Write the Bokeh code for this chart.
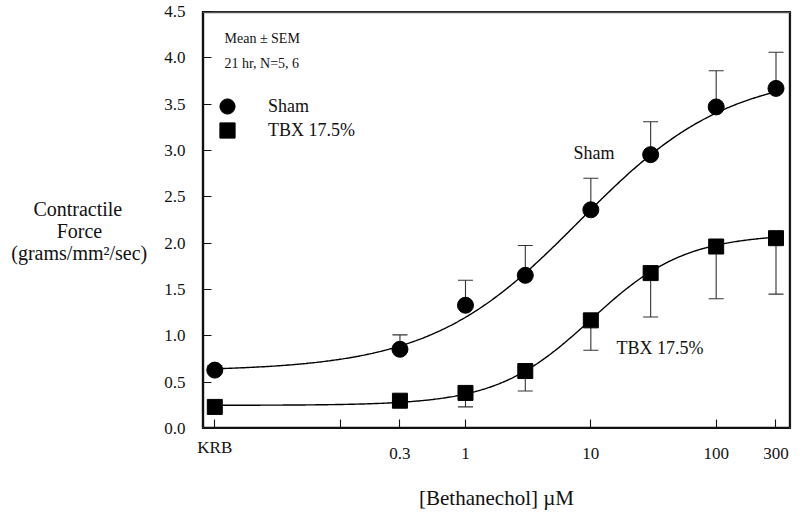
import numpy as np
from bokeh.plotting import figure
from bokeh.models import (Range1d, FixedTicker, PrintfTickFormatter, ColumnDataSource,
                          Whisker, TeeHead, Label, Legend, LegendItem, LogAxis)
from bokeh.embed import file_html
from bokeh.resources import INLINE

# ---------------- data ----------------
conc = [0.01, 0.3, 1, 3, 10, 30, 100, 300]          # KRB plotted at 0.01
sham_mean = [0.63, 0.855, 1.33, 1.653, 2.36, 2.955, 3.47, 3.67]
sham_upper = [0.68, 1.01, 1.60, 1.975, 2.70, 3.31, 3.86, 4.06]
tbx_mean = [0.233, 0.30, 0.384, 0.62, 1.167, 1.677, 1.964, 2.054]
tbx_lower = [0.20, 0.27, 0.233, 0.405, 0.844, 1.203, 1.40, 1.45]

x_ticks = [0.01, 0.1, 0.3, 1, 10, 100, 300]
x_tick_labels = ["KRB", "", "0.3", "1", "10", "100", "300"]
y_ticks = [0.0, 0.5, 1.0, 1.5, 2.0, 2.5, 3.0, 3.5, 4.0, 4.5]

# fitted sigmoid (Hill) curve parameters
sham_fit = {"bottom": 0.62, "top": 3.85, "ec50": 8.06, "hill": 0.728}
tbx_fit = {"bottom": 0.25, "top": 2.10, "ec50": 10.0, "hill": 1.15}

FONT = "Liberation Serif"
X_LO, X_HI = 0.00798, 391.6
Y_LO, Y_HI = 0.0, 4.5
FRAME_W, FRAME_H = 588, 417          # frame size in px
INK = "#111111"
NB = "\u00a0"

def hill(x, f):
    return f["bottom"] + (f["top"] - f["bottom"]) / (1.0 + (f["ec50"] / x) ** f["hill"])

p = figure(width=800, height=515, x_axis_type="log", output_backend="svg",
           toolbar_location=None, x_range=Range1d(X_LO, X_HI), y_range=Range1d(Y_LO, Y_HI),
           min_border_left=202, min_border_right=10, min_border_top=11, min_border_bottom=87)
p.grid.visible = False
p.outline_line_color = "#222222"
p.outline_line_width = 1.2
p.background_fill_color = "white"
p.border_fill_color = "white"

# frame box drawn as glyph lines, 1 px inside the plotting frame
px_x = 10 ** (np.log10(X_HI / X_LO) / FRAME_W)   # factor per pixel on the log axis
px_y = (Y_HI - Y_LO) / FRAME_H
fl, fr = X_LO * px_x, X_HI / px_x
fb, ft = Y_LO + px_y, Y_HI - px_y
p.segment(x0=[fl, fl, fr], y0=[fb, fb, fb], x1=[fr, fl, fr], y1=[fb, ft, ft],
          line_color=INK, line_width=1.4)
p.segment(x0=[fl], y0=[ft], x1=[fr], y1=[ft], line_color="#555555", line_width=1.4)

# ---- axes ----
xa = p.xaxis[0]          # nearest axis: ticks + raised "KRB" label
for ax in (xa, p.yaxis[0]):
    ax.major_tick_in = 9
    ax.major_tick_out = 0
    ax.minor_tick_line_color = None
    ax.axis_line_color = INK
    ax.axis_line_width = 1.2
    ax.major_tick_line_color = INK
    ax.major_tick_line_width = 1.1
    ax.major_label_text_font = FONT
    ax.major_label_text_font_size = "17px"
    ax.major_label_text_color = INK

xa.ticker = FixedTicker(ticks=x_ticks)
xa.major_label_overrides = {t: (lab if lab == "KRB" else "") for t, lab in zip(x_ticks, x_tick_labels)}
xa.major_label_standoff = 9

# second bottom axis: numeric concentration labels + title
xb = LogAxis(ticker=FixedTicker(ticks=x_ticks),
             major_label_overrides={t: ("" if lab == "KRB" else lab) for t, lab in zip(x_ticks, x_tick_labels)},
             axis_line_color=None, major_tick_line_color=None, minor_tick_line_color=None,
             major_label_standoff=-18, major_label_text_font=FONT,
             major_label_text_font_size="17px", major_label_text_color=INK,
             axis_label="[Bethanechol] µM", axis_label_text_font=FONT,
             axis_label_text_font_style="normal", axis_label_text_font_size="21px",
             axis_label_text_color=INK, axis_label_standoff=24)
p.add_layout(xb, "below")

ya = p.yaxis[0]
ya.ticker = FixedTicker(ticks=y_ticks)
ya.formatter = PrintfTickFormatter(format="%.1f")
ya.major_label_standoff = 17
ya.major_label_text_baseline = "hanging"
# lines padded symmetrically with no-break spaces so that they sit centred
ya.axis_label = ("\n" + NB * 5 + "Contractile" + NB * 5 + "\n" + NB * 9 + "Force" + NB * 9
                 + "\n(grams/mm²/sec)")
ya.axis_label_text_font = FONT
ya.axis_label_text_font_style = "normal"
ya.axis_label_text_font_size = "20px"
ya.axis_label_text_color = INK
ya.axis_label_text_line_height = 1.0
ya.axis_label_text_align = "center"
ya.axis_label_standoff = 14
ya.axis_label_orientation = "horizontal"

# curves
xs = np.logspace(np.log10(conc[0]), np.log10(conc[-1]), 400)
p.line(xs, hill(xs, sham_fit), line_color="black", line_width=1.4)
p.line(xs, hill(xs, tbx_fit), line_color="black", line_width=1.4)

# error bars
src_s = ColumnDataSource(dict(x=conc, y=sham_mean, up=sham_upper))
src_t = ColumnDataSource(dict(x=conc, y=tbx_mean, lo=tbx_lower))
p.add_layout(Whisker(source=src_s, base="x", lower="y", upper="up", dimension="height",
                     line_color="#333333", line_width=1.1, lower_head=None,
                     upper_head=TeeHead(size=15, line_color="#333333", line_width=1.1)))
p.add_layout(Whisker(source=src_t, base="x", lower="lo", upper="y", dimension="height",
                     line_color="#333333", line_width=1.1, upper_head=None,
                     lower_head=TeeHead(size=15, line_color="#333333", line_width=1.1)))

r_s = p.scatter("x", "y", source=src_s, marker="circle", size=16, fill_color="black",
                line_color="black")
r_t = p.scatter("x", "y", source=src_t, marker="square", size=15, fill_color="black",
                line_color="black")

# legend: one Legend per entry (legend marker size = 0.4 * glyph box)
for lab, rend, loc in [("Sham", r_s, (6, 303)), ("TBX 17.5%", r_t, (6, 279))]:
    lg = Legend(items=[LegendItem(label=lab, renderers=[rend])],
                location=loc, glyph_width=38, glyph_height=38, label_height=20,
                label_standoff=22, spacing=0, padding=0, margin=0,
                border_line_color=None, background_fill_alpha=0,
                label_text_font=FONT, label_text_font_size="18px", label_text_color=INK)
    p.add_layout(lg, "center")

# notes
p.add_layout(Label(x=22, y=390.5, x_units="screen", y_units="screen", text="Mean ± SEM",
                   text_baseline="middle", text_font=FONT, text_font_size="14px",
                   text_color=INK))
p.add_layout(Label(x=22, y=365, x_units="screen", y_units="screen", text="21 hr, N=5, 6",
                   text_baseline="middle", text_font=FONT, text_font_size="14px",
                   text_color=INK))

# in-plot series labels
p.add_layout(Label(x=371, y=276, x_units="screen", y_units="screen", text="Sham",
                   text_baseline="middle", text_font=FONT, text_font_size="18px",
                   text_color=INK))
p.add_layout(Label(x=414, y=81, x_units="screen", y_units="screen", text="TBX 17.5%",
                   text_baseline="middle", text_font=FONT, text_font_size="18px",
                   text_color=INK))

open("out.html", "w").write(file_html(p, INLINE))
